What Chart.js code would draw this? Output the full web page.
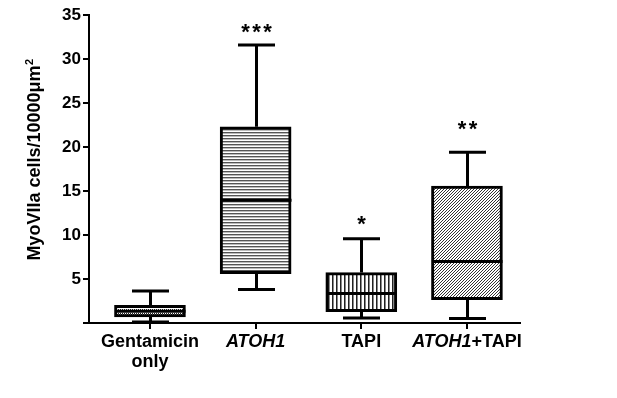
<!DOCTYPE html>
<html><head><meta charset="utf-8">
<script src="https://cdn.jsdelivr.net/npm/chart.js@4"></script>
<style>html,body{margin:0;padding:0;background:#fff;overflow:hidden}</style>
</head><body>
<canvas id="c" width="617" height="398"></canvas>
<script>
// ---- data ----
const categories = [['Gentamicin', 'only'], ['ATOH1'], ['TAPI'], ['ATOH1+TAPI']];
const whiskerMin = [0.1, 3.8, 0.57, 0.5];
const q1 = [0.68, 5.6, 1.3, 2.66];
const median = [1.33, 13.96, 3.34, 7.0];
const q3 = [2.0, 22.3, 5.73, 15.55];
const whiskerMax = [3.64, 31.6, 9.56, 19.4];
const significance = ['', '***', '*', '**'];
const significanceLevel = [0, 33.75, 11.95, 22.7];
const yTickValues = [0, 5, 10, 15, 20, 25, 30, 35];
const yTitle = 'MyoVIIa cells/10000\u03BCm';
const yTitleSup = '2';
const italicTerm = 'ATOH1';

// ---- styles ----
const FONT = '"Liberation Sans", Arial, sans-serif';
function makePattern(w, h, draw) {
  const c = document.createElement('canvas');
  c.width = w; c.height = h;
  const g = c.getContext('2d');
  g.fillStyle = '#fff'; g.fillRect(0, 0, w, h);
  draw(g);
  return document.getElementById('c').getContext('2d').createPattern(c, 'repeat');
}
const patDots = makePattern(2, 4, g => {
  g.fillStyle = '#222';
  g.fillRect(0, 1, 1, 1); g.fillRect(1, 2, 1, 1);
});
const patHoriz = makePattern(1, 3, g => {
  g.fillStyle = '#555'; g.fillRect(0, 0, 1, 1);
  g.fillStyle = '#bbb'; g.fillRect(0, 1, 1, 1);
});
const patVert = makePattern(4, 1, g => {
  g.fillStyle = '#222'; g.fillRect(0, 0, 1, 1);
  g.fillStyle = '#888'; g.fillRect(1, 0, 1, 1);
});
const patDiag = makePattern(3, 3, g => {
  g.fillStyle = '#333';
  g.fillRect(2, 0, 1, 1); g.fillRect(1, 1, 1, 1); g.fillRect(0, 2, 1, 1);
});
const fills = [patDots, patHoriz, patVert, patDiag];

const boxPlugin = {
  id: 'boxExtras',
  afterDatasetsDraw(chart) {
    const ctx = chart.ctx, xs = chart.scales.x, ys = chart.scales.y;
    const capHalf = 18.5, boxHalf = 35;
    ctx.save();
    ctx.strokeStyle = '#000';
    ctx.lineCap = 'butt';
    categories.forEach((c, i) => {
      const x = Math.round(xs.getPixelForValue(i)) + 0.5;
      ctx.lineWidth = 3;
      ctx.beginPath();
      ctx.moveTo(x, ys.getPixelForValue(q3[i])); ctx.lineTo(x, ys.getPixelForValue(whiskerMax[i]));
      ctx.moveTo(x, ys.getPixelForValue(q1[i])); ctx.lineTo(x, ys.getPixelForValue(whiskerMin[i]));
      ctx.stroke();
      ctx.beginPath();
      const yMax = ys.getPixelForValue(whiskerMax[i]);
      const yMin = ys.getPixelForValue(whiskerMin[i]);
      ctx.moveTo(x - capHalf, yMax); ctx.lineTo(x + capHalf, yMax);
      ctx.moveTo(x - capHalf, yMin); ctx.lineTo(x + capHalf, yMin);
      const ym = ys.getPixelForValue(median[i]);
      ctx.moveTo(x - boxHalf, ym); ctx.lineTo(x + boxHalf, ym);
      ctx.stroke();
      // significance stars
      if (significance[i]) {
        ctx.fillStyle = '#000';
        ctx.font = 'bold 22px ' + FONT;
        ctx.textAlign = 'center';
        ctx.textBaseline = 'alphabetic';
        const n = significance[i].length, gap = 11;
        const yc = ys.getPixelForValue(significanceLevel[i]);
        for (let k = 0; k < n; k++) {
          const sx = x + (k - (n - 1) / 2) * gap;
          ctx.fillText('*', sx, yc + 13);
        }
      }
    });
    ctx.restore();
  },
  afterDraw(chart) {
    const ctx = chart.ctx, xs = chart.scales.x, area = chart.chartArea;
    ctx.save();
    ctx.fillStyle = '#000';
    ctx.textBaseline = 'alphabetic';
    ctx.textAlign = 'left';
    // category labels (gene name in italic)
    categories.forEach((lines, i) => {
      const x = xs.getPixelForValue(i);
      lines.forEach((line, li) => {
        const parts = line.split(new RegExp('(' + italicTerm + ')')).filter(p => p.length);
        const fonts = parts.map(p => (p === italicTerm ? 'italic bold 18px ' : 'bold 18px ') + FONT);
        let total = 0;
        const widths = parts.map((p, k) => { ctx.font = fonts[k]; const w = ctx.measureText(p).width; total += w; return w; });
        let cx = x - total / 2;
        const by = area.bottom + 24 + li * 20;
        parts.forEach((p, k) => { ctx.font = fonts[k]; ctx.fillText(p, cx, by); cx += widths[k]; });
      });
    });
    // y-axis title with superscript
    ctx.translate(40, (area.top + area.bottom) / 2 - 9);
    ctx.rotate(-Math.PI / 2);
    ctx.font = 'bold 18px ' + FONT;
    const w1 = ctx.measureText(yTitle).width;
    ctx.font = 'bold 11px ' + FONT;
    const w2 = ctx.measureText(yTitleSup).width;
    const start = -(w1 + w2) / 2;
    ctx.font = 'bold 18px ' + FONT;
    ctx.fillText(yTitle, start, 0);
    ctx.font = 'bold 11px ' + FONT;
    ctx.fillText(yTitleSup, start + w1 + 0.5, -7);
    ctx.restore();
  }
};

new Chart(document.getElementById('c'), {
  type: 'bar',
  data: {
    datasets: [{
      data: categories.map((c, i) => ({ x: i, y: [q1[i], q3[i]] })),
      backgroundColor: fills,
      borderColor: '#000',
      borderWidth: 3,
      borderSkipped: false,
      barThickness: 71
    }]
  },
  options: {
    responsive: false,
    animation: false,
    devicePixelRatio: 1,
    layout: { padding: { top: 15, right: 97, left: 0, bottom: 0 } },
    plugins: { legend: { display: false }, tooltip: { enabled: false } },
    scales: {
      x: {
        type: 'linear',
        offset: false,
        min: -0.577, max: 3.502,
        afterBuildTicks: s => { s.ticks = categories.map((c, i) => ({ value: i })); },
        afterFit: s => { s.height = 75; },
        ticks: { display: false },
        grid: { offset: false, drawOnChartArea: false, drawTicks: true, tickLength: 6, color: '#000', lineWidth: 2 },
        border: { color: '#000', width: 2 }
      },
      y: {
        min: 0, max: 35,
        afterBuildTicks: s => { s.ticks = yTickValues.map(v => ({ value: v })); },
        afterFit: s => { s.width = 89; },
        ticks: {
          color: '#000',
          font: { family: FONT, size: 17, weight: 'bold' },
          padding: 2,
          callback: v => (v === 0 ? '' : String(v))
        },
        grid: { drawOnChartArea: false, drawTicks: true, tickLength: 6, color: '#000', lineWidth: 2 },
        border: { color: '#000', width: 2 }
      }
    }
  },
  plugins: [boxPlugin]
});
</script>
</body></html>
